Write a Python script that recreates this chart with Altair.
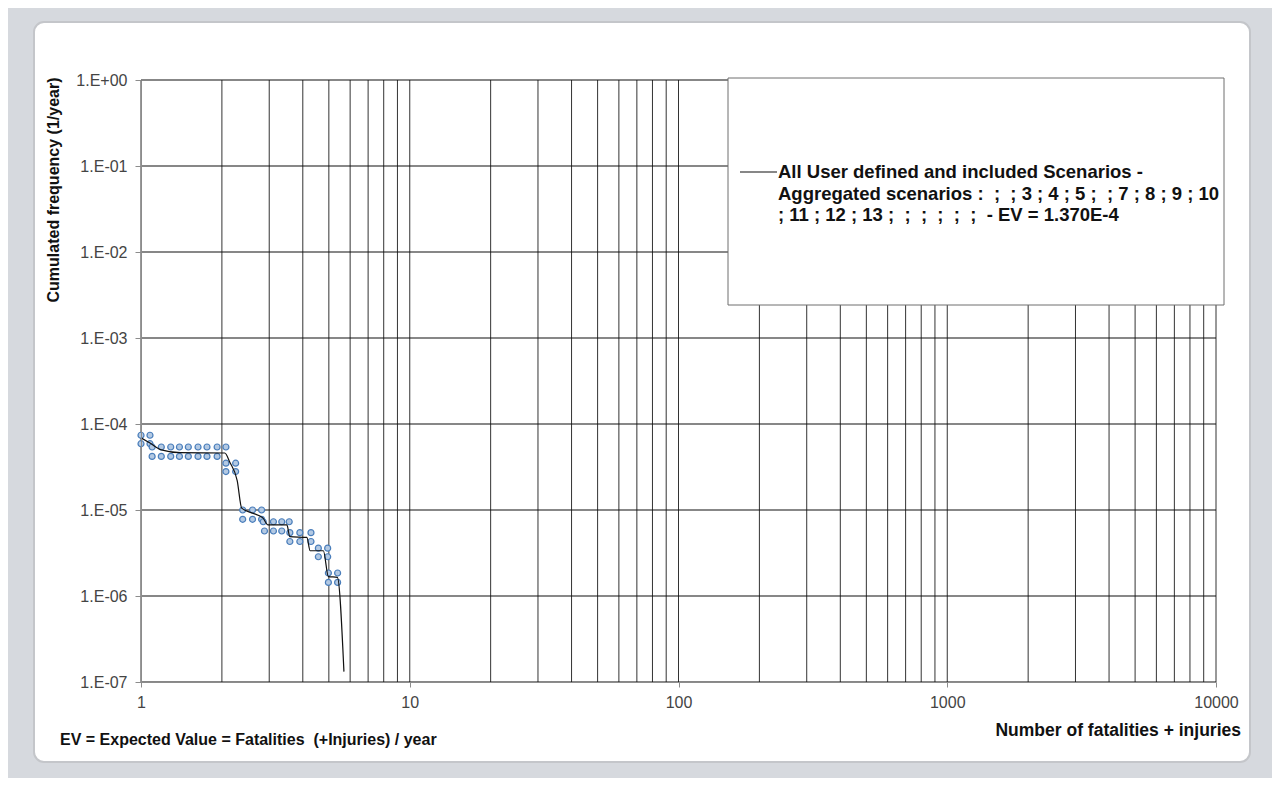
import altair as alt
import pandas as pd

# ---------------- data ----------------
grid_x = [1, 2, 3, 4, 5, 6, 7, 8, 9,
          10, 20, 30, 40, 50, 60, 70, 80, 90,
          100, 200, 300, 400, 500, 600, 700, 800, 900,
          1000, 2000, 3000, 4000, 5000, 6000, 7000, 8000, 9000, 10000]
grid_y = [1e-7, 1e-6, 1e-5, 1e-4, 1e-3, 1e-2, 1e-1, 1.0]
x_label_values = [1, 10, 100, 1000, 10000]

marker_x = [1.0, 1.08, 1.0, 1.08,
            1.10, 1.19, 1.29, 1.39, 1.50, 1.63, 1.76, 1.92, 2.07,
            1.10, 1.19, 1.29, 1.39, 1.50, 1.63, 1.76, 1.92,
            2.07, 2.25, 2.07, 2.25,
            2.39, 2.60, 2.81, 2.39, 2.60, 2.81,
            2.85, 3.11, 3.34, 3.56, 2.88, 3.11, 3.34,
            3.58, 3.90, 4.29, 3.58, 3.90, 4.29,
            4.57, 4.95, 4.57, 4.95,
            4.98, 5.39, 4.98, 5.39]
marker_y = [7.4e-5, 7.4e-5, 5.9e-5, 5.9e-5,
            5.4e-5, 5.4e-5, 5.4e-5, 5.4e-5, 5.4e-5, 5.4e-5, 5.4e-5, 5.4e-5, 5.4e-5,
            4.2e-5, 4.2e-5, 4.2e-5, 4.2e-5, 4.2e-5, 4.2e-5, 4.2e-5, 4.2e-5,
            3.5e-5, 3.5e-5, 2.8e-5, 2.8e-5,
            1.0e-5, 1.0e-5, 1.0e-5, 7.8e-6, 7.8e-6, 7.8e-6,
            7.3e-6, 7.3e-6, 7.3e-6, 7.3e-6, 5.7e-6, 5.7e-6, 5.7e-6,
            5.45e-6, 5.45e-6, 5.45e-6, 4.3e-6, 4.3e-6, 4.3e-6,
            3.6e-6, 3.6e-6, 2.86e-6, 2.86e-6,
            1.85e-6, 1.85e-6, 1.44e-6, 1.44e-6]

line_x = [1.0, 1.08, 1.19, 1.40, 2.05, 2.14, 2.28, 2.37, 2.60, 2.84, 2.97,
          3.49, 3.58, 4.14, 4.26, 4.77, 4.98, 5.38, 5.69]
line_y = [6.9e-5, 6.0e-5, 5.0e-5, 4.64e-5, 4.6e-5, 3.6e-5, 2.2e-5, 1.05e-5,
          9.2e-6, 8.1e-6, 6.7e-6, 6.7e-6, 4.9e-6, 4.8e-6, 3.36e-6, 3.36e-6,
          1.68e-6, 1.65e-6, 1.32e-7]

NB = "\u00a0"
legend_lines = [
    "All User defined and included Scenarios -",
    "Aggregated scenarios :" + NB * 2 + ";" + NB * 2 + ";" + NB + "3 ; 4 ; 5 ;" + NB * 2 + ";" + NB + "7 ; 8 ; 9 ; 10",
    "; 11 ; 12 ; 13 ;" + NB * 2 + ";" + NB * 2 + ";" + NB * 2 + ";" + NB * 2 + ";" + NB * 2 + ";" + NB * 2 + "- EV = 1.370E-4",
]
y_title = "Cumulated frequency (1/year)"
x_title = "Number of fatalities + injuries"
note = "EV = Expected Value = Fatalities" + NB * 2 + "(+Injuries) / year"

# ---------------- chart ----------------
FONT = "Liberation Sans"
one = pd.DataFrame({"k": [0]})

xs = alt.Scale(type="log", domain=[1, 10000], nice=False)
ys = alt.Scale(type="log", domain=[1e-7, 1], nice=False)

xaxis = alt.Axis(values=x_label_values, format="d", title=None, grid=False,
                 domainColor="#8c8c8c", tickColor="#8c8c8c", tickSize=5,
                 labelFont=FONT, labelFontSize=16, labelColor="#444444",
                 labelPadding=7, labelFlush=False, labelOverlap=False, zindex=1)
yaxis = alt.Axis(values=grid_y, title=None, grid=False,
                 labelExpr="'1.E' + (datum.value >= 1 ? '+00' : '-0' + format(-log(datum.value)/LN10, '.0f'))",
                 domainColor="#8c8c8c", tickColor="#8c8c8c", tickSize=6,
                 labelFont=FONT, labelFontSize=16, labelColor="#444444",
                 labelPadding=8, labelFlush=False, labelOverlap=False, zindex=1)

panel = alt.Chart(one).mark_rect(fill="white", stroke="#c4c6ca", strokeWidth=2,
                                 cornerRadius=10).encode(
    x=alt.value(-107), x2=alt.value(1109), y=alt.value(-58), y2=alt.value(682))

vgrid = alt.Chart(pd.DataFrame({"x": grid_x})).mark_rule(
    color="#333333", strokeWidth=1).encode(x=alt.X("x:Q", scale=xs, axis=xaxis))
hgrid = alt.Chart(pd.DataFrame({"y": grid_y})).mark_rule(
    color="#111111", strokeWidth=1.2).encode(y=alt.Y("y:Q", scale=ys, axis=yaxis))

pts = alt.Chart(pd.DataFrame({"x": marker_x, "y": marker_y})).mark_point(
    shape="circle", filled=True, size=36, fill="#b3c9e3", stroke="#4a7ebb",
    strokeWidth=1.2, opacity=1).encode(
    x=alt.X("x:Q", scale=xs, axis=xaxis), y=alt.Y("y:Q", scale=ys, axis=yaxis))

line = alt.Chart(pd.DataFrame({"x": line_x, "y": line_y, "o": list(range(len(line_x)))})).mark_line(
    color="#111111", strokeWidth=1.2, interpolate="monotone").encode(
    x=alt.X("x:Q", scale=xs, axis=xaxis), y=alt.Y("y:Q", scale=ys, axis=yaxis),
    order="o:Q")

legend_box = alt.Chart(one).mark_rect(fill="white", stroke="#6e6e6e", strokeWidth=1).encode(
    x=alt.value(587), x2=alt.value(1083), y=alt.value(-2), y2=alt.value(225))
legend_sym = alt.Chart(one).mark_rule(color="#111111", strokeWidth=1.2).encode(
    x=alt.value(599), x2=alt.value(636), y=alt.value(92))
legend_txt = alt.Chart(one).mark_text(
    text=legend_lines, align="left", baseline="alphabetic", font=FONT,
    fontSize=18.5, fontWeight="bold", color="#111111", lineHeight=21.5).encode(
    x=alt.value(637), y=alt.value(98))

ytitle = alt.Chart(one).mark_text(
    text=y_title, angle=270, align="center", baseline="middle", font=FONT,
    fontSize=16, fontWeight="bold", color="#111111").encode(
    x=alt.value(-87), y=alt.value(110))
xtitle = alt.Chart(one).mark_text(
    text=x_title, align="right", baseline="middle", font=FONT,
    fontSize=17.5, fontWeight="bold", color="#111111").encode(
    x=alt.value(1100), y=alt.value(651))
note_txt = alt.Chart(one).mark_text(
    text=note, align="left", baseline="middle", font=FONT,
    fontSize=16, fontWeight="bold", color="#111111").encode(
    x=alt.value(-81), y=alt.value(660))

chart = alt.layer(panel, vgrid, hgrid, pts, line, legend_box, legend_sym,
                  legend_txt, ytitle, xtitle, note_txt).properties(
    width=1075, height=602,
    autosize=alt.AutoSizeParams(type="none"),
    padding={"left": 133, "top": 72, "right": 56, "bottom": 96},
    background="#d6d9de",
).configure_view(stroke="transparent")

chart.save("out.html", embed_options={"renderer": "svg", "actions": False})
